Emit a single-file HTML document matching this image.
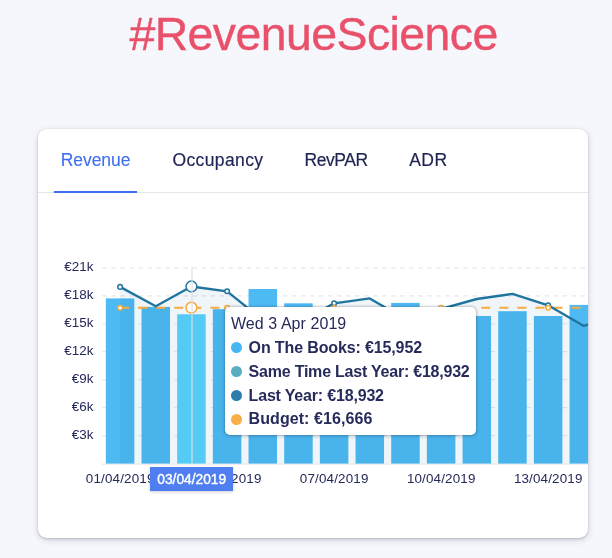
<!DOCTYPE html>
<html lang="en">
<head>
<meta charset="utf-8">
<title>#RevenueScience</title>
<style>
html,body{margin:0;padding:0;}
body{width:612px;height:558px;overflow:hidden;background:#f6f7fc;font-family:"Liberation Sans",sans-serif;position:relative;color:#1f2453;}
h1{position:absolute;left:129.4px;top:7px;margin:0;font-weight:400;font-size:46.4px;line-height:54px;color:#e9516b;letter-spacing:-0.55px;-webkit-text-stroke:0.4px #e9516b;white-space:nowrap;}
.card{position:absolute;left:38px;top:129px;width:550px;height:409px;background:#fff;border-radius:9px;box-shadow:0 2px 7px rgba(30,32,55,.15),0 1px 2.5px rgba(30,32,55,.22);overflow:hidden;}
.tabs{position:absolute;left:0;top:0;width:550px;height:63px;border-bottom:1px solid #e5e6ea;}
.tab{position:absolute;top:20px;font-size:17.5px;line-height:22px;white-space:nowrap;color:#1f2453;-webkit-text-stroke:0.2px currentColor;}
.tab.active{color:#3d6ff0;-webkit-text-stroke:0.1px currentColor;}
.ul{position:absolute;left:15.8px;top:61.6px;width:83.2px;height:2.4px;background:#3d6ef0;}
.chart{position:absolute;left:0;top:121px;}
.chart text{font-family:"Liberation Sans",sans-serif;fill:#242959;}
.yl{font-size:13.4px;}
.xl{font-size:13.4px;}
.xtip{position:absolute;left:111.6px;top:337.6px;width:83.4px;height:24.3px;background:#4f7ef0;color:#fff;font-size:13.75px;line-height:26px;padding-left:0.8px;box-sizing:border-box;text-align:center;box-shadow:0 1px 3px rgba(0,0,0,.2);-webkit-text-stroke:0.4px #fff;}
.tip{position:absolute;left:187px;top:177.5px;width:251px;height:128.9px;color:#262b5a;background:#fff;border-radius:5px;box-shadow:0 0 2.5px rgba(30,40,70,.42),0 1px 4px rgba(30,40,70,.2);box-sizing:border-box;}
.tip .t{position:absolute;left:6px;top:7.2px;font-size:16px;line-height:20px;white-space:nowrap;letter-spacing:0.06px;}
.tip .r{position:absolute;left:23.6px;font-size:16px;line-height:20px;font-weight:700;white-space:nowrap;}
.tip .d{position:absolute;left:6.2px;width:11px;height:11px;border-radius:50%;}
</style>
</head>
<body>
<h1>#RevenueScience</h1>
<div class="card">
  <div class="tabs">
    <div class="tab active" style="left:22.7px;letter-spacing:-0.06px">Revenue</div>
    <div class="tab" style="left:134.5px;letter-spacing:0.37px">Occupancy</div>
    <div class="tab" style="left:266.4px;letter-spacing:-0.4px">RevPAR</div>
    <div class="tab" style="left:371.2px;letter-spacing:0.5px">ADR</div>
    <div class="ul"></div>
  </div>
  <svg class="chart" width="550" height="300" viewBox="38 250 550 300">
<line x1="102.3" x2="588" y1="435.63" y2="435.63" stroke="#e6e7ec" stroke-width="1.2" stroke-dasharray="4.5 4.525"/>
<line x1="102.3" x2="588" y1="407.66" y2="407.66" stroke="#e6e7ec" stroke-width="1.2" stroke-dasharray="4.5 4.525"/>
<line x1="102.3" x2="588" y1="379.69" y2="379.69" stroke="#e6e7ec" stroke-width="1.2" stroke-dasharray="4.5 4.525"/>
<line x1="102.3" x2="588" y1="351.72" y2="351.72" stroke="#e6e7ec" stroke-width="1.2" stroke-dasharray="4.5 4.525"/>
<line x1="102.3" x2="588" y1="323.75" y2="323.75" stroke="#e6e7ec" stroke-width="1.2" stroke-dasharray="4.5 4.525"/>
<line x1="102.3" x2="588" y1="295.78" y2="295.78" stroke="#e6e7ec" stroke-width="1.2" stroke-dasharray="4.5 4.525"/>
<line x1="102.3" x2="588" y1="267.81" y2="267.81" stroke="#e6e7ec" stroke-width="1.2" stroke-dasharray="4.5 4.525"/>
<line x1="102" x2="588" y1="464.10" y2="464.10" stroke="#e1e3e9" stroke-width="1"/>
<rect x="105.85" y="298.40" width="28.5" height="165.20" fill="#4dbaf3"/>
<rect x="141.52" y="306.90" width="28.5" height="156.70" fill="#4dbaf3"/>
<rect x="177.19" y="314.30" width="28.5" height="149.30" fill="#59d1fb"/>
<rect x="212.86" y="309.20" width="28.5" height="154.40" fill="#4dbaf3"/>
<rect x="248.53" y="289.00" width="28.5" height="174.60" fill="#4dbaf3"/>
<rect x="284.20" y="303.30" width="28.5" height="160.30" fill="#4dbaf3"/>
<rect x="319.87" y="312.00" width="28.5" height="151.60" fill="#4dbaf3"/>
<rect x="355.54" y="318.00" width="28.5" height="145.60" fill="#4dbaf3"/>
<rect x="391.21" y="302.90" width="28.5" height="160.70" fill="#4dbaf3"/>
<rect x="426.88" y="314.00" width="28.5" height="149.60" fill="#4dbaf3"/>
<rect x="462.55" y="316.00" width="28.5" height="147.60" fill="#4dbaf3"/>
<rect x="498.22" y="311.20" width="28.5" height="152.40" fill="#4dbaf3"/>
<rect x="533.89" y="316.00" width="28.5" height="147.60" fill="#4dbaf3"/>
<rect x="569.56" y="304.90" width="28.5" height="158.70" fill="#4dbaf3"/>
<polygon points="120.10,463.6 120.10,286.90 155.77,306.30 191.44,286.50 227.11,291.30 262.78,320.00 298.45,322.70 334.12,303.30 369.79,298.40 405.46,319.30 441.13,308.90 476.80,299.00 512.47,293.90 548.14,305.30 583.81,325.90 619.48,314.00 619.48,463.6" fill="#1f759f" fill-opacity="0.07"/>
<clipPath id="bc"><rect x="100" y="300" width="124.5" height="20"/><rect x="476.5" y="300" width="120" height="20"/></clipPath>
<line x1="120.10" x2="619.48" y1="307.7" y2="307.7" stroke="#f6ab3c" stroke-width="1.9" stroke-dasharray="9 9.06" clip-path="url(#bc)"/>
<polyline points="120.10,286.90 155.77,306.30 191.44,286.50 227.11,291.30 262.78,320.00 298.45,322.70 334.12,303.30 369.79,298.40 405.46,319.30 441.13,308.90 476.80,299.00 512.47,293.90 548.14,305.30 583.81,325.90 619.48,314.00" fill="none" stroke="#1f759f" stroke-width="2.35" stroke-linejoin="round"/>
<circle cx="120.10" cy="286.90" r="2.3" fill="#fff" stroke="#1f759f" stroke-width="1.5"/>
<circle cx="227.11" cy="291.30" r="2.3" fill="#fff" stroke="#1f759f" stroke-width="1.5"/>
<circle cx="334.12" cy="303.30" r="2.3" fill="#fff" stroke="#1f759f" stroke-width="1.5"/>
<circle cx="441.13" cy="308.90" r="2.3" fill="#fff" stroke="#1f759f" stroke-width="1.5"/>
<circle cx="548.14" cy="305.30" r="2.3" fill="#fff" stroke="#1f759f" stroke-width="1.5"/>
<circle cx="120.10" cy="307.7" r="2.3" fill="#fff" stroke="#f6ab3c" stroke-width="1.5"/>
<circle cx="227.11" cy="307.7" r="2.3" fill="#fff" stroke="#f6ab3c" stroke-width="1.5"/>
<circle cx="334.12" cy="307.7" r="2.3" fill="#fff" stroke="#f6ab3c" stroke-width="1.5"/>
<circle cx="441.13" cy="307.7" r="2.3" fill="#fff" stroke="#f6ab3c" stroke-width="1.5"/>
<circle cx="548.14" cy="307.7" r="2.3" fill="#fff" stroke="#f6ab3c" stroke-width="1.5"/>
<circle cx="191.44" cy="286.50" r="5.4" fill="#fff" stroke="#1f759f" stroke-width="1.5"/>
<circle cx="191.44" cy="307.7" r="5.4" fill="#fff" stroke="#f6ab3c" stroke-width="1.5"/>
<line x1="191.99" x2="191.99" y1="267.31" y2="463.6" stroke="#dcdee4" stroke-opacity="0.68" stroke-width="1.7"/>
<text class="yl" x="93.4" y="438.68" text-anchor="end">€3k</text>
<text class="yl" x="93.4" y="410.71" text-anchor="end">€6k</text>
<text class="yl" x="93.4" y="382.74" text-anchor="end">€9k</text>
<text class="yl" x="93.4" y="354.77" text-anchor="end">€12k</text>
<text class="yl" x="93.4" y="326.80" text-anchor="end">€15k</text>
<text class="yl" x="93.4" y="298.83" text-anchor="end">€18k</text>
<text class="yl" x="93.4" y="270.86" text-anchor="end">€21k</text>
<text class="xl" x="120.10" y="482.8" text-anchor="middle" textLength="68.5" lengthAdjust="spacing">01/04/2019</text>
<text class="xl" x="227.11" y="482.8" text-anchor="middle" textLength="68.5" lengthAdjust="spacing">04/04/2019</text>
<text class="xl" x="334.12" y="482.8" text-anchor="middle" textLength="68.5" lengthAdjust="spacing">07/04/2019</text>
<text class="xl" x="441.13" y="482.8" text-anchor="middle" textLength="68.5" lengthAdjust="spacing">10/04/2019</text>
<text class="xl" x="548.14" y="482.8" text-anchor="middle" textLength="68.5" lengthAdjust="spacing">13/04/2019</text>
</svg>
  <div class="xtip">03/04/2019</div>
  <div class="tip">
    <div class="t">Wed 3 Apr 2019</div>
    <span class="d" style="top:35.5px;background:#47b7f4"></span><div class="r" style="top:31.8px;letter-spacing:-0.13px">On The Books: €15,952</div>
    <span class="d" style="top:59.3px;background:#58adc0"></span><div class="r" style="top:55.6px;letter-spacing:-0.22px">Same Time Last Year: €18,932</div>
    <span class="d" style="top:83px;background:#2b7eac"></span><div class="r" style="top:79.3px;letter-spacing:-0.18px">Last Year: €18,932</div>
    <span class="d" style="top:107px;background:#f8b046"></span><div class="r" style="top:102.7px;letter-spacing:0.07px">Budget: €16,666</div>
  </div>
</div>
</body>
</html>
